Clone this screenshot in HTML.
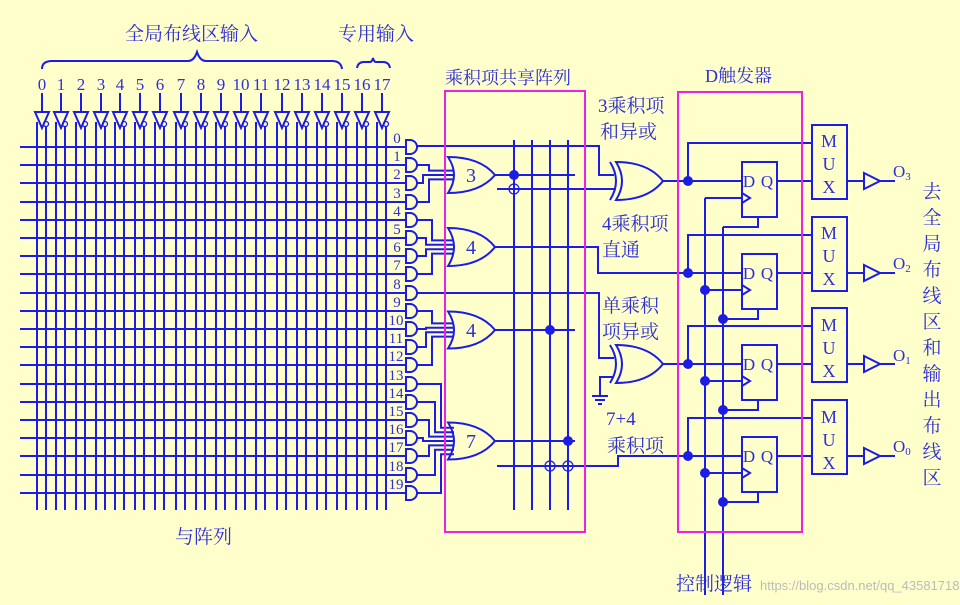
<!DOCTYPE html>
<html><head><meta charset="utf-8"><style>
html,body{margin:0;padding:0;background:#ffffcc;}
svg{display:block;}
text{font-family:"Liberation Serif","Noto Serif CJK SC",serif;fill:#2f2fd8;}
</style></head><body>
<svg id="s" width="960" height="605" viewBox="0 0 960 605" xmlns="http://www.w3.org/2000/svg">
<rect width="960" height="605" fill="#ffffcc"/>
<g id="g" stroke="#1c1ce6" stroke-width="2" fill="none"></g>
<rect x="445" y="91" width="140" height="441" fill="none" stroke="#f020e0" stroke-width="2"/>
<rect x="678" y="92" width="124" height="440" fill="none" stroke="#f020e0" stroke-width="2"/>
<g font-size="19">
<text x="125" y="40">全局布线区输入</text>
<text x="338" y="40">专用输入</text>
<text x="445" y="84" font-size="18">乘积项共享阵列</text>
<text x="705" y="82" font-size="18">D触发器</text>
<text x="598" y="112">3乘积项</text>
<text x="600" y="138">和异或</text>
<text x="602" y="230">4乘积项</text>
<text x="602" y="256">直通</text>
<text x="602" y="312">单乘积</text>
<text x="602" y="338">项异或</text>
<text x="606" y="425">7+4</text>
<text x="607" y="452">乘积项</text>
<text x="175" y="543">与阵列</text>
<text x="676" y="590">控制逻辑</text>
</g>
<g font-size="19" text-anchor="middle">
<text x="932" y="198">去</text><text x="932" y="224">全</text><text x="932" y="250">局</text><text x="932" y="276">布</text><text x="932" y="302">线</text><text x="932" y="328">区</text><text x="932" y="354">和</text><text x="932" y="380">输</text><text x="932" y="406">出</text><text x="932" y="432">布</text><text x="932" y="458">线</text><text x="932" y="484">区</text>
</g>
<g font-size="17" text-anchor="middle">
<text x="42" y="90">0</text><text x="61" y="90">1</text><text x="81" y="90">2</text><text x="101" y="90">3</text><text x="120" y="90">4</text><text x="140" y="90">5</text><text x="160" y="90">6</text><text x="181" y="90">7</text><text x="201" y="90">8</text><text x="221" y="90">9</text><text x="241" y="90">10</text><text x="261" y="90">11</text><text x="282" y="90">12</text><text x="302" y="90">13</text><text x="322" y="90">14</text><text x="342" y="90">15</text><text x="362" y="90">16</text><text x="382" y="90">17</text>
</g>
<g font-size="15" text-anchor="middle">
<text x="397" y="143">0</text><text x="397" y="161">1</text><text x="397" y="179">2</text><text x="397" y="198">3</text><text x="397" y="216">4</text><text x="397" y="234">5</text><text x="397" y="252">6</text><text x="397" y="270">7</text><text x="397" y="289">8</text><text x="397" y="307">9</text><text x="396" y="325">10</text><text x="396" y="343">11</text><text x="396" y="361">12</text><text x="396" y="380">13</text><text x="396" y="398">14</text><text x="396" y="416">15</text><text x="396" y="434">16</text><text x="396" y="452">17</text><text x="396" y="471">18</text><text x="396" y="489">19</text>
</g>
<g font-size="20" text-anchor="middle">
<text x="471" y="182">3</text><text x="471" y="254">4</text><text x="471" y="337">4</text><text x="471" y="448">7</text>
</g>
<g font-size="17" text-anchor="middle">
<text x="749" y="187">D</text><text x="767" y="187">Q</text>
<text x="749" y="279">D</text><text x="767" y="279">Q</text>
<text x="749" y="370">D</text><text x="767" y="370">Q</text>
<text x="749" y="462">D</text><text x="767" y="462">Q</text>
</g>
<g font-size="18" text-anchor="middle">
<text x="829" y="147">M</text><text x="829" y="170">U</text><text x="829" y="193">X</text>
<text x="829" y="239">M</text><text x="829" y="262">U</text><text x="829" y="285">X</text>
<text x="829" y="331">M</text><text x="829" y="354">U</text><text x="829" y="377">X</text>
<text x="829" y="423">M</text><text x="829" y="446">U</text><text x="829" y="469">X</text>
</g>
<g font-size="17">
<text x="893" y="177">O<tspan font-size="11" dy="3">3</tspan></text>
<text x="893" y="269">O<tspan font-size="11" dy="3">2</tspan></text>
<text x="893" y="361">O<tspan font-size="11" dy="3">1</tspan></text>
<text x="893" y="452">O<tspan font-size="11" dy="3">0</tspan></text>
</g>
<text x="760" y="590" font-size="13" style="fill:#bbbbbb;font-family:'Liberation Sans',sans-serif">https://blog.csdn.net/qq_43581718</text>
</svg>
<script>
var g=document.getElementById('g'),NS='http://www.w3.org/2000/svg';
function el(t,a){var e=document.createElementNS(NS,t);for(var k in a)e.setAttribute(k,a[k]);g.appendChild(e);return e;}
function L(pts){el('polyline',{points:pts});}
function dot(x,y){el('circle',{cx:x,cy:y,r:5,fill:'#1c1ce6',stroke:'none'});}
function hol(x,y){el('circle',{cx:x,cy:y,r:5,'stroke-width':1.3});}
el('path',{d:'M42 69 Q42 61 52 61 L188 61 Q194 61 197 52 Q200 61 206 61 L332 61 Q341 61 342 69'});
el('path',{d:'M357 68 Q358 62 364 62 L370 62 Q372 62 373 58 Q374 62 376 62 L383 62 Q389 62 390 68'});
var xs=[42,61,81,101,120,140,160,181,201,221,241,261,282,302,322,342,362,382];
var ry=[];for(var i=0;i<20;i++)ry.push(Math.round(147+18.2*i));
ry.forEach(function(y){L('20,'+y+' 406,'+y);});
xs.forEach(function(x){
 L(x+',93 '+x+',112');
 el('polygon',{points:(x-7)+',112 '+(x+7)+',112 '+x+',128'});
 el('circle',{cx:x+4,cy:124,r:2.5,'stroke-width':1.3});
 L((x-5)+',122 '+(x-5)+',510');
 L((x+4)+',127 '+(x+4)+',510');
});
ry.forEach(function(y){el('path',{d:'M406 '+(y-7)+' h4 a7 7 0 0 1 0 14 h-4 Z'});});
function OR(x0,cy,h,xr){var y0=cy-h/2,y1=cy+h/2,x1=x0+47;
 el('path',{d:'M'+x0+' '+y0+' Q'+(x0+12)+' '+cy+' '+x0+' '+y1+' Q'+(x0+32)+' '+y1+' '+x1+' '+cy+' Q'+(x0+32)+' '+y0+' '+x0+' '+y0+' Z'});
 if(xr)el('path',{d:'M'+(x0-6)+' '+y0+' Q'+(x0+6)+' '+cy+' '+(x0-6)+' '+y1});}
function feed(rows,cy,gx){var n=rows.length;rows.forEach(function(r,k){var iy=cy-(n-1)*2.2+k*4.4;var bx=423+Math.abs(k-(n-1)/2)*6;L('417,'+ry[r]+' '+bx+','+ry[r]+' '+bx+','+iy+' '+(gx+6)+','+iy);});}
feed([1,2,3],175,448);OR(448,175,36);
feed([4,5,6,7],247,448);OR(448,247,38);
feed([9,10,11,12],330,448);OR(448,330,37);
feed([13,14,15,16,17,18,19],441,448);OR(448,441,37);
[514,532,550,568].forEach(function(x){L(x+',140 '+x+',510');});
L('495,175 575,175');dot(514,175);
L('497,189 616,189');hol(514,189);
L('417,146 599,146 599,175 614,175');
OR(616,181,38,true);L('663,181 688,181');
L('495,247 598,247 598,273 688,273');
L('417,293 599,293 599,358 614,358');
OR(616,364,38,true);L('663,364 688,364');
L('614,377 600,377 600,396');L('592,396 608,396');L('595,400 605,400');L('598,404 602,404');
L('495,330 575,330');dot(550,330);
L('495,441 575,441');dot(568,441);
L('497,466 618,466 618,456 688,456');hol(550,466);hol(568,466);
var cys=[181,273,364,456];
cys.forEach(function(c,i){
 var top=c-19;
 dot(688,c);L('688,'+c+' 688,'+(c-38)+' 812,'+(c-38));L('688,'+c+' 742,'+c);
 el('rect',{x:742,y:top,width:35,height:55});
 L('742,'+(c+12)+' 750,'+(c+17)+' 742,'+(c+22));
 L('777,'+c+' 812,'+c);
 L('705,'+(c+17)+' 742,'+(c+17));
 L('758,'+(top+55)+' 758,'+(top+65)+' 723,'+(top+65));
 if(i>0){dot(705,c+17);dot(723,top+65);}
 el('rect',{x:812,y:c-56,width:35,height:74});
 L('847,'+c+' 864,'+c);el('polygon',{points:'864,'+(c-8)+' 864,'+(c+8)+' 880,'+c});L('880,'+c+' 895,'+c);
});
L('705,198 705,595');L('723,227 723,595');
</script>
</body></html>
